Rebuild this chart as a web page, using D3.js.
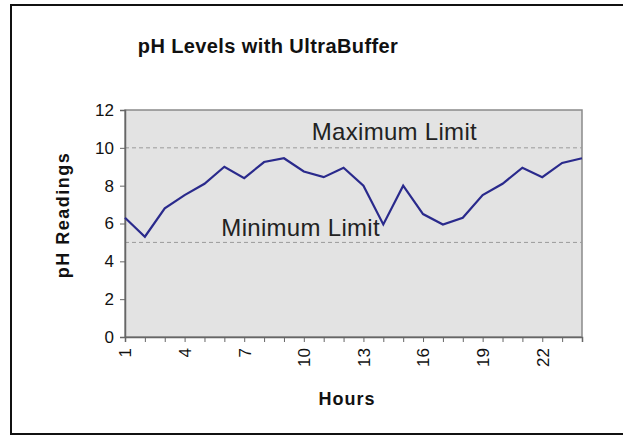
<!DOCTYPE html>
<html>
<head>
<meta charset="utf-8">
<script src="https://cdn.jsdelivr.net/npm/d3@7"></script>
<style>
  body { margin: 0; background: #fff; }
  text { font-family: Arial, "Liberation Sans", sans-serif; }
</style>
</head>
<body>
<svg id="chart"></svg>
<script>
var hours = [1,2,3,4,5,6,7,8,9,10,11,12,13,14,15,16,17,18,19,20,21,22,23,24];
var phValues = [6.3,5.3,6.8,7.5,8.1,9.0,8.4,9.25,9.45,8.75,8.45,8.95,8.0,5.95,8.0,6.5,5.95,6.3,7.5,8.1,8.95,8.45,9.2,9.45];
var yTicks = [0,2,4,6,8,10,12];
var xLabels = [1,4,7,10,13,16,19,22];
var limits = [{ name: "Maximum Limit", value: 10 }, { name: "Minimum Limit", value: 5 }];

var width = 623, height = 436;
var margin = { top: 110, left: 125, bottom: 99, right: 41 };
var w = width - margin.left - margin.right;
var h = height - margin.top - margin.bottom;

var svg = d3.select("#chart")
            .attr("width", width)
            .attr("height", height);

// outer frame
svg.append("rect")
   .attr("x", 11).attr("y", 5)
   .attr("width", 620).attr("height", 429)
   .attr("fill", "none")
   .attr("stroke", "#111")
   .attr("stroke-width", 2);

svg.append("text")
   .attr("x", 268).attr("y", 53)
   .attr("text-anchor", "middle")
   .style("font-size", "20px")
   .style("font-weight", "bold")
   .style("letter-spacing", "0.4px")
   .attr("fill", "#111")
   .text("pH Levels with UltraBuffer");

var g = svg.append("g")
           .attr("transform", "translate(" + margin.left + "," + margin.top + ")");

var x = d3.scaleLinear().domain([1, 24]).range([0, w]);
var y = d3.scaleLinear().domain([0, 12]).range([h, 0]);

g.append("rect")
 .attr("width", w).attr("height", h)
 .attr("fill", "#e3e3e3")
 .attr("stroke", "#8a8a8a")
 .attr("stroke-width", 1.5);

// limit lines
g.selectAll(".limit")
 .data(limits)
 .enter().append("line")
 .attr("class", "limit")
 .attr("x1", 0).attr("x2", w)
 .attr("y1", function(d){ return y(d.value); })
 .attr("y2", function(d){ return y(d.value); })
 .attr("stroke", "#9a9a9a")
 .attr("stroke-dasharray", "4,3");

g.append("text")
 .attr("x", x(10.4)).attr("y", y(10) - 8)
 .style("font-size", "24px")
 .style("letter-spacing", "0.3px")
 .attr("fill", "#222")
 .text(limits[0].name);
g.append("text")
 .attr("x", x(5.85)).attr("y", y(5) - 6)
 .style("font-size", "24px")
 .style("letter-spacing", "0.3px")
 .attr("fill", "#222")
 .text(limits[1].name);

// axes
var yAxis = g.append("g")
 .call(d3.axisLeft(y).tickValues(yTicks).tickSize(5).tickPadding(6));
var xAxis = g.append("g")
 .attr("transform", "translate(0," + h + ")")
 .call(d3.axisBottom(x).tickValues(hours).tickSize(5)
        .tickFormat(function(d){ return xLabels.indexOf(d) >= 0 ? d : ""; }));

[yAxis, xAxis].forEach(function(a){
  a.select(".domain").attr("stroke", "#666").attr("stroke-width", 1.5);
  a.selectAll(".tick line").attr("stroke", "#666");
  a.selectAll("text")
   .style("font-size", "17px")
   .style("font-family", "Arial, 'Liberation Sans', sans-serif")
   .attr("fill", "#111");
});

xAxis.selectAll(".tick text")
     .attr("text-anchor", "end")
     .attr("transform", "rotate(-90)")
     .attr("x", -11)
     .attr("y", 0)
     .attr("dy", "0.35em");

var line = d3.line()
             .x(function(d, i){ return x(hours[i]); })
             .y(function(d){ return y(d); });

g.append("path")
 .datum(phValues)
 .attr("d", line)
 .attr("fill", "none")
 .attr("stroke", "#2a2a8c")
 .attr("stroke-width", 2.2);

svg.append("text")
   .attr("transform", "translate(69," + (margin.top + 105) + ") rotate(-90)")
   .attr("text-anchor", "middle")
   .style("font-size", "18px")
   .style("font-weight", "bold")
   .style("letter-spacing", "1.5px")
   .attr("fill", "#111")
   .text("pH Readings");

svg.append("text")
   .attr("x", 347).attr("y", 405)
   .attr("text-anchor", "middle")
   .style("font-size", "18px")
   .style("font-weight", "bold")
   .style("letter-spacing", "1px")
   .attr("fill", "#111")
   .text("Hours");
</script>
</body>
</html>
